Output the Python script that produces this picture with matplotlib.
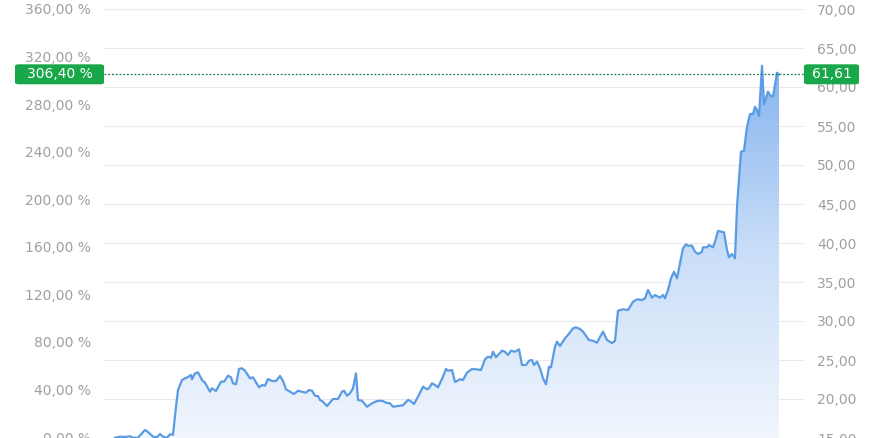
import numpy as np
import matplotlib
matplotlib.use("Agg")
import matplotlib.pyplot as plt
from matplotlib.colors import LinearSegmentedColormap
from matplotlib.patches import Polygon, FancyBboxPatch

# trading-day offsets and closing prices
days = [0, 5, 10, 15, 18, 23, 30, 33, 38, 42, 45, 48, 52, 55, 58,
        61, 63, 67, 70, 73, 76, 77, 80, 83, 87, 90, 95, 97, 101, 106,
        109, 113, 116, 118, 121, 124, 127, 130, 135, 138, 144, 147, 150, 153, 157,
        161, 165, 168, 171, 175, 179, 183, 187, 191, 194, 197, 200, 203, 205, 208,
        212, 218, 223, 227, 229, 232, 235, 238, 241, 243, 247, 252, 257, 262, 267,
        271, 275, 278, 283, 288, 293, 295, 299, 303, 308, 312, 314, 317, 320, 323,
        328, 331, 333, 337, 340, 345, 348, 352, 357, 361, 366, 370, 373, 376, 378,
        381, 387, 390, 393, 396, 400, 404, 407, 411, 414, 417, 419, 422, 425, 428,
        431, 434, 436, 440, 442, 445, 450, 453, 458, 461, 465, 468, 474, 478, 482,
        485, 488, 492, 497, 500, 503, 508, 513, 518, 522, 527, 530, 533, 537, 540,
        545, 548, 550, 553, 556, 559, 562, 565, 568, 571, 573, 577, 580, 583, 587,
        588, 592, 594, 598, 600, 603, 609, 612, 614, 617, 620, 622, 626, 629, 632,
        635, 638, 640, 642, 644, 647, 649, 653, 655, 658, 662, 664]
prices = [15.04, 15.17, 15.13, 15.22, 15.04, 15.04, 16.03, 15.77, 15.17, 15.09, 15.51, 15.17, 15.04, 15.47, 15.42,
          19.01, 21.15, 22.44, 22.65, 22.82, 23.08, 22.53, 23.29, 23.42, 22.44, 22.09, 20.94, 21.37, 21.03, 22.22,
          22.22, 22.99, 22.78, 22.01, 21.88, 23.85, 23.94, 23.63, 22.65, 22.78, 21.50, 21.79, 21.71, 22.56, 22.31,
          22.31, 22.95, 22.31, 21.24, 20.94, 20.64, 21.06, 20.94, 20.81, 21.15, 21.06, 20.42, 20.38, 19.87, 19.65,
          19.10, 20.00, 20.00, 20.94, 21.06, 20.42, 20.73, 21.37, 23.29, 19.87, 19.78, 19.01, 19.45, 19.74, 19.78,
          19.53, 19.45, 19.01, 19.10, 19.19, 19.87, 19.78, 19.36, 20.29, 21.58, 21.24, 21.37, 22.01, 21.79, 21.50,
          22.86, 23.85, 23.63, 23.72, 22.18, 22.53, 22.44, 23.37, 23.85, 23.81, 23.72, 25.09, 25.42, 25.29, 26.06,
          25.35, 26.19, 26.06, 25.64, 26.19, 26.06, 26.37, 24.36, 24.36, 24.91, 25.00, 24.36, 24.78, 23.94, 22.65,
          21.88, 24.14, 24.06, 26.71, 27.35, 26.79, 27.78, 28.21, 29.06, 29.19, 28.97, 28.63, 27.56, 27.47, 27.22,
          27.95, 28.63, 27.56, 27.18, 27.44, 31.32, 31.50, 31.41, 32.47, 32.78, 32.69, 32.91, 33.97, 32.99, 33.33,
          32.99, 33.33, 32.91, 33.97, 35.47, 36.32, 35.47, 37.40, 39.32, 39.83, 39.65, 39.65, 38.88, 38.59, 38.88,
          39.45, 39.45, 39.74, 39.45, 40.17, 41.54, 41.37, 39.10, 38.17, 38.59, 38.04, 44.65, 51.71, 51.83, 54.91,
          56.54, 56.54, 57.47, 57.05, 56.28, 62.73, 57.82, 59.40, 58.97, 58.76, 61.83, 61.61]

last_price = 61.61
last_pct = 306.40
pct_ticks = [0, 40, 80, 120, 160, 200, 240, 280, 320, 360]
price_ticks = [15, 20, 25, 30, 35, 40, 45, 50, 55, 60, 65, 70]

line_col = "#5a9be3"
green = "#18a84a"
tick_col = "#a09fa6"
font = ["DejaVu Sans"]
fsize = 10


def de(v, d=2):
    return f"{v:.{d}f}".replace(".", ",")


fig = plt.figure(figsize=(8.84, 4.38), dpi=100)
fig.patch.set_facecolor("white")
ax = fig.add_axes([104 / 884, 0.0, 700 / 884, 429 / 438])
ax2 = ax.twinx()

x = np.array(days)
y = np.array(prices)

ax2.set_ylim(15, 70)
ax.set_ylim(-0.84, 360)
ax.set_xlim(-11, 689)

# grid on the price scale
for p in price_ticks[1:]:
    ax2.axhline(p, color="#ebe9f0", lw=0.8, zorder=0)

# gradient fill under the line
cmap = LinearSegmentedColormap.from_list("fill", ["#f1f6fd", "#c9def8", "#86b4ee"])
grad = np.linspace(0, 1, 256).reshape(-1, 1)
img = ax2.imshow(grad, aspect="auto", cmap=cmap, origin="lower",
                 extent=[x[0], x[-1], 15, y.max()], zorder=1)
poly = Polygon(np.column_stack([np.r_[x[0], x, x[-1]], np.r_[15, y, 15]]),
               closed=True, facecolor="none", edgecolor="none")
ax2.add_patch(poly)
img.set_clip_path(poly)
ax2.plot(x, y, color=line_col, lw=1.6, zorder=3, solid_joinstyle="round")

# last value marker line
ax2.axhline(last_price, color="#1f7a55", lw=0.9, ls=(0, (1.5, 1.5)), zorder=4)

ax.set_yticks(pct_ticks)
ax.set_yticklabels([de(v) + " %" for v in pct_ticks])
ax2.set_yticks(price_ticks)
ax2.set_yticklabels([de(v) for v in price_ticks])
for a in (ax, ax2):
    a.tick_params(axis="y", length=0, pad=9.4, labelcolor=tick_col, labelsize=fsize)
    for lab in a.get_yticklabels():
        lab.set_family(font)
    for s in a.spines.values():
        s.set_visible(False)
    a.set_xticks([])
    a.patch.set_visible(False)

# value tags on both sides
tag_y = 1 - 74.2 / 438
for (x0, w) in [(15, 89), (804, 55)]:
    fig.patches.append(FancyBboxPatch((x0 / 884, 1 - 84.3 / 438), w / 884, 20 / 438,
                                      boxstyle="round,pad=0,rounding_size=0.004",
                                      transform=fig.transFigure, fc=green, ec="none", zorder=5))
fig.text(59.5 / 884, tag_y, de(last_pct) + " %", color="white", fontsize=fsize,
         family=font, ha="center", va="center", zorder=10)
fig.text(831.5 / 884, tag_y, de(last_price), color="white", fontsize=fsize,
         family=font, ha="center", va="center", zorder=10)

fig.savefig("out.png", dpi=100, facecolor="white")
